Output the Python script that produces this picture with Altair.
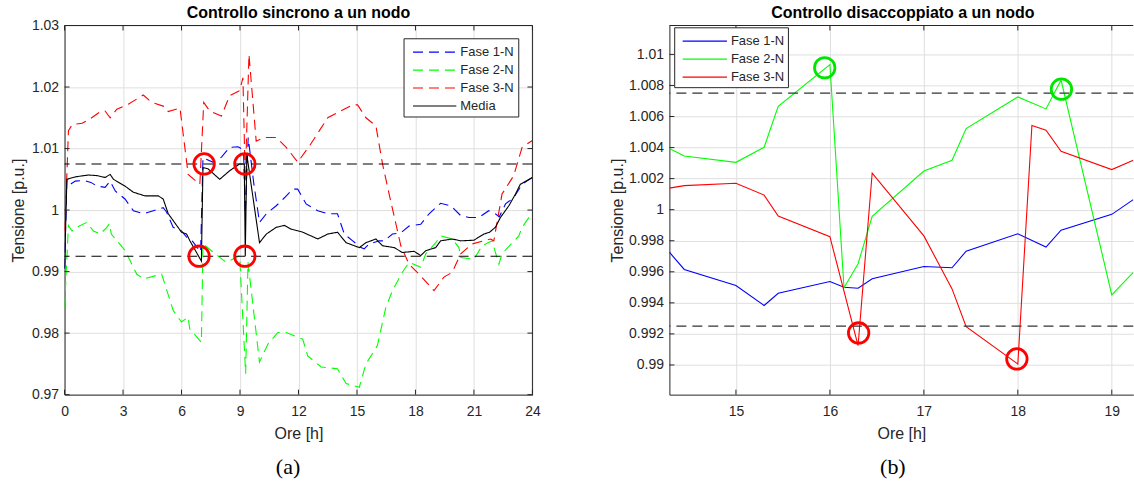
import altair as alt
import pandas as pd

FONT = "Liberation Sans"
INK = "#262626"

# ---------------- panel (a) data ----------------
series_a = ["Fase 1-N", "Fase 2-N", "Fase 3-N", "Media"]

a_f1_h = [0.0, 0.12, 0.3, 0.55, 1.0, 1.35, 1.66, 2.08, 2.34, 2.6, 3.1, 3.53, 4.04, 4.55, 5.06, 5.23, 5.57, 6.0, 6.26, 6.57, 6.98, 7.1, 7.6, 8.05, 8.47, 8.9, 9.18, 9.27, 9.42, 9.7, 10.0, 10.35, 10.86, 11.28, 11.71, 11.96, 12.39, 12.99, 13.5, 14.0, 14.35, 14.78, 15.2, 15.37, 15.62, 16.14, 16.4, 16.82, 17.25, 17.67, 18.27, 18.7, 19.29, 19.81, 20.32, 20.74, 21.25, 21.76, 22.1, 22.3, 22.62, 23.04, 23.47, 24.0]
a_f1_v = [0.9905, 1.005, 1.0042, 1.0047, 1.0048, 1.0045, 1.0039, 1.0037, 1.0047, 1.0031, 1.0018, 0.9999, 0.9994, 0.9999, 1.0004, 0.9997, 0.9972, 0.9966, 0.9956, 0.9949, 0.9932, 1.0085, 1.0078, 1.0086, 1.0102, 1.0103, 1.0098, 0.9994, 1.0118, 1.0045, 0.998, 0.9994, 1.0007, 1.002, 1.0034, 1.0034, 1.001, 0.9999, 0.9994, 0.9994, 0.9961, 0.995, 0.9939, 0.9937, 0.9945, 0.995, 0.995, 0.9961, 0.9963, 0.9974, 0.9977, 0.9994, 1.0011, 1.0007, 0.9991, 0.9988, 0.9988, 0.9999, 0.9994, 0.9989, 1.001, 1.002, 1.0042, 1.0053]

a_f2_h = [0.0, 0.2, 0.38, 0.55, 1.14, 1.48, 1.83, 2.17, 2.3, 2.4, 3.11, 3.7, 4.04, 4.98, 5.57, 6.0, 6.34, 6.42, 7.02, 7.1, 7.96, 8.3, 8.98, 9.29, 9.41, 10.0, 10.43, 10.94, 11.37, 12.22, 12.47, 13.16, 14.0, 14.44, 15.12, 15.46, 16.05, 16.48, 16.82, 17.33, 17.67, 18.27, 18.53, 19.04, 19.29, 19.89, 20.23, 20.32, 21.0, 21.42, 21.93, 22.28, 22.44, 23.3, 23.47, 24.0]
a_f2_v = [0.9842, 0.9975, 0.9966, 0.9971, 0.998, 0.9966, 0.9961, 0.9972, 0.9978, 0.9961, 0.9934, 0.9896, 0.9888, 0.9896, 0.9837, 0.9818, 0.9826, 0.9807, 0.9785, 0.9945, 0.9923, 0.9915, 0.9926, 0.9734, 0.9915, 0.9753, 0.9782, 0.9801, 0.9801, 0.979, 0.9763, 0.9745, 0.9742, 0.9718, 0.9712, 0.975, 0.978, 0.9842, 0.9869, 0.9899, 0.9915, 0.9907, 0.9929, 0.9947, 0.9958, 0.9953, 0.9939, 0.9923, 0.992, 0.9942, 0.995, 0.9912, 0.9929, 0.9958, 0.9972, 0.9996]

a_f3_h = [0.0, 0.12, 0.2, 0.4, 0.9, 1.3, 1.83, 2.08, 2.34, 2.68, 3.27, 4.04, 4.47, 5.15, 5.32, 5.92, 6.17, 6.34, 6.94, 7.14, 7.45, 8.05, 8.47, 8.98, 9.15, 9.27, 9.46, 9.83, 10.26, 10.86, 11.37, 11.96, 12.56, 13.5, 14.78, 15.03, 15.46, 15.97, 16.31, 16.65, 17.25, 17.67, 18.27, 18.95, 19.46, 19.89, 20.32, 20.91, 21.85, 22.02, 22.44, 23.04, 23.47, 23.7, 24.0]
a_f3_v = [0.9966, 1.0058, 1.0129, 1.0139, 1.0141, 1.0148, 1.016, 1.0161, 1.015, 1.0164, 1.0172, 1.0187, 1.0175, 1.0168, 1.016, 1.0166, 1.0102, 1.0058, 1.0042, 1.0175, 1.0161, 1.0153, 1.0186, 1.0194, 1.0215, 1.0047, 1.0253, 1.0112, 1.0118, 1.0118, 1.0102, 1.0078, 1.0104, 1.015, 1.0171, 1.0171, 1.015, 1.0137, 1.0075, 1.0026, 0.9942, 0.9912, 0.9893, 0.9869, 0.9891, 0.9899, 0.9929, 0.9945, 0.9953, 0.995, 1.0026, 1.0056, 1.0102, 1.0107, 1.0113]

a_med_h = [0.0, 0.12, 0.55, 1.23, 1.66, 2.08, 2.34, 2.51, 3.1, 3.53, 4.13, 4.81, 5.06, 5.32, 5.57, 6.0, 6.26, 6.43, 7.02, 7.1, 7.36, 7.96, 8.47, 8.98, 9.22, 9.27, 9.35, 10.0, 10.35, 10.86, 11.28, 11.62, 12.22, 12.99, 13.5, 14.0, 14.44, 15.12, 15.46, 15.97, 16.31, 16.91, 17.33, 17.93, 18.27, 18.53, 19.04, 19.29, 19.89, 20.32, 21.0, 21.25, 21.51, 21.8, 22.1, 22.36, 22.79, 23.13, 23.38, 24.0]
a_med_v = [0.9905, 1.005, 1.0054, 1.0057, 1.0056, 1.0053, 1.0058, 1.005, 1.0039, 1.0029, 1.0023, 1.0023, 1.0018, 0.9994, 0.9983, 0.9964, 0.9961, 0.995, 0.9917, 1.0069, 1.0067, 1.005, 1.0064, 1.0075, 1.0075, 0.9925, 1.009, 0.9947, 0.9961, 0.9972, 0.9975, 0.9969, 0.9964, 0.9953, 0.9961, 0.9964, 0.9947, 0.9939, 0.9947, 0.9953, 0.9942, 0.9939, 0.9931, 0.9933, 0.9926, 0.9934, 0.9939, 0.995, 0.9953, 0.995, 0.9951, 0.9956, 0.9961, 0.9964, 0.9972, 0.9988, 1.0007, 1.0026, 1.0042, 1.0053]

a_thresholds = [0.9925, 1.0075]
a_circle_h = [7.16, 9.25, 6.9, 9.25]
a_circle_v = [1.0075, 1.0075, 0.9925, 0.9925]
a_x_ticks = [0, 3, 6, 9, 12, 15, 18, 21, 24]
a_y_ticks = [0.97, 0.98, 0.99, 1.0, 1.01, 1.02, 1.03]

# ---------------- panel (b) data ----------------
series_b = ["Fase 1-N", "Fase 2-N", "Fase 3-N"]
b_h = [14.292, 14.45, 15.0, 15.3, 15.45, 16.0, 16.15, 16.3, 16.45, 17.0, 17.3, 17.45, 18.0, 18.15, 18.3, 18.46, 19.0, 19.229]
b_f1_v = [0.99726, 0.99615, 0.99512, 0.99383, 0.99462, 0.99537, 0.995, 0.99494, 0.99555, 0.99634, 0.99626, 0.99733, 0.99845, None, 0.99759, 0.99868, 0.9997, 1.00065]
b_f2_v = [1.00394, 1.00346, 1.00305, 1.00402, 1.00666, 1.00935, 0.99497, 0.99652, 0.99957, 1.00249, 1.00318, 1.00522, 1.00726, None, 1.00649, 1.00834, 0.99452, 0.99597]
b_f3_v = [1.00139, 1.00155, 1.0017, 1.00094, 0.99959, 0.99826, None, 0.99125, 1.00236, 0.99831, 0.9949, 0.99247, 0.99006, 1.00542, 1.00512, 1.00376, 1.00258, 1.00318]

b_thresholds = [0.9925, 1.0075]
b_green_circle_h = [15.945, 18.464]
b_green_circle_v = [1.00914, 1.00776]
b_red_circle_h = [16.306, 17.99]
b_red_circle_v = [0.99206, 0.99039]
b_x_ticks = [15, 16, 17, 18, 19]
b_y_ticks = [0.99, 0.992, 0.994, 0.996, 0.998, 1.0, 1.002, 1.004, 1.006, 1.008, 1.01]

captions = ["(a)", "(b)"]
titles = ["Controllo sincrono a un nodo", "Controllo disaccoppiato a un nodo"]

# ---------------- styles ----------------
colors_a = ["#0000ff", "#00ff00", "#ff0000", "#000000"]
dashes_a = [[10, 6], [10, 6], [10, 6], [1, 0]]
colors_b = ["#0000ff", "#00ff00", "#ff0000"]

WA, HA = 469, 370
WB, HB = 465, 370


def long_df(names, hs, vs):
    rows = []
    for name, h, v in zip(names, hs, vs):
        for i, (hh, vv) in enumerate(zip(h, v)):
            if vv is None:
                continue
            rows.append({"series": name, "h": hh, "v": vv, "idx": i})
    return pd.DataFrame(rows)


df_a = long_df(series_a, [a_f1_h, a_f2_h, a_f3_h, a_med_h], [a_f1_v, a_f2_v, a_f3_v, a_med_v])
df_b = long_df(series_b, [b_h, b_h, b_h], [b_f1_v, b_f2_v, b_f3_v])


def x_axis(values, W):
    return alt.Axis(values=values, format="d", title="Ore [h]", grid=True, gridColor="#dfdfdf",
                    gridWidth=1, ticks=False, tickSize=0, domain=True, domainColor=INK, domainWidth=1,
                    labelFont=FONT, labelFontSize=14, labelColor=INK, labelPadding=10, labelFlush=False,
                    labelOverlap=False, titleFont=FONT, titleFontSize=16, titleFontWeight="normal",
                    titleColor=INK, titleX=W / 2, titleY=43.8, titleBaseline="alphabetic", titleAlign="center")


def y_axis(values, tx, H):
    return alt.Axis(values=values, format=".3~f", title="Tensione [p.u.]", grid=True, gridColor="#dfdfdf",
                    gridWidth=1, ticks=False, tickSize=0, domain=True, domainColor=INK, domainWidth=1,
                    labelFont=FONT, labelFontSize=14, labelColor=INK, labelPadding=6, labelFlush=False,
                    labelOverlap=False, titleFont=FONT, titleFontSize=16, titleFontWeight="normal",
                    titleColor=INK, titleAngle=270, titleX=tx, titleY=H / 2, titleBaseline="alphabetic",
                    titleAlign="center")


def build_panel(W, H, xs, ys, xax, yax, df, col_scale, dash_scale, thresholds, thr_color, thr_width,
                circles, x_ticks, y_ticks, names, leg_box, leg_y0, leg_line_x, leg_text_x,
                caption, title, title_dx, right_border):
    X = lambda f: alt.X(f, scale=xs, axis=xax)
    Y = lambda f: alt.Y(f, scale=ys, axis=yax)
    one = pd.DataFrame({"k": [0]})
    layers = []

    enc = dict(x=X("h:Q"), y=Y("v:Q"),
               color=alt.Color("series:N", scale=col_scale, legend=None),
               order=alt.Order("idx:Q"))
    if dash_scale is not None:
        enc["strokeDash"] = alt.StrokeDash("series:N", scale=dash_scale, legend=None)
    layers.append(alt.Chart(df).mark_line(strokeWidth=1.1, clip=True).encode(**enc))

    layers.append(alt.Chart(pd.DataFrame({"v": thresholds})).mark_rule(
        color=thr_color, strokeWidth=thr_width, strokeDash=[10, 6]).encode(y=Y("v:Q")))

    for (ch, cv, ccol) in circles:
        layers.append(alt.Chart(pd.DataFrame({"h": ch, "v": cv})).mark_point(
            shape="circle", filled=False, size=420, strokeWidth=2.8, color=ccol, opacity=1).encode(
            x=X("h:Q"), y=Y("v:Q")))

    # inward ticks (box style)
    xt = pd.DataFrame({"h": x_ticks})
    yt = pd.DataFrame({"v": y_ticks})
    layers.append(alt.Chart(xt).mark_rule(color=INK, strokeWidth=1).encode(
        x=X("h:Q"), y=alt.value(H), y2=alt.value(H - 5)))
    layers.append(alt.Chart(xt).mark_rule(color=INK, strokeWidth=1).encode(
        x=X("h:Q"), y=alt.value(0), y2=alt.value(5)))
    layers.append(alt.Chart(yt).mark_rule(color=INK, strokeWidth=1).encode(
        y=Y("v:Q"), x=alt.value(0), x2=alt.value(5)))
    if right_border:
        layers.append(alt.Chart(yt).mark_rule(color=INK, strokeWidth=1).encode(
            y=Y("v:Q"), x=alt.value(W - 5), x2=alt.value(W)))

    # box edges top / right
    layers.append(alt.Chart(one).mark_rule(color=INK, strokeWidth=1).encode(
        x=alt.value(0), x2=alt.value(W), y=alt.value(0)))
    if right_border:
        layers.append(alt.Chart(one).mark_rule(color=INK, strokeWidth=1).encode(
            x=alt.value(W), y=alt.value(0), y2=alt.value(H)))

    # legend
    bx1, by1, bx2, by2 = leg_box
    layers.append(alt.Chart(one).mark_rect(fill="white", stroke=INK, strokeWidth=1).encode(
        x=alt.value(bx1), x2=alt.value(bx2), y=alt.value(by1), y2=alt.value(by2)))
    for i, name in enumerate(names):
        d = pd.DataFrame({"series": [name]})
        ly = leg_y0 + 18 * i
        lenc = dict(x=alt.value(leg_line_x[0]), x2=alt.value(leg_line_x[1]), y=alt.value(ly),
                    color=alt.Color("series:N", scale=col_scale, legend=None))
        if dash_scale is not None:
            lenc["strokeDash"] = alt.StrokeDash("series:N", scale=dash_scale, legend=None)
        layers.append(alt.Chart(d).mark_rule(strokeWidth=1.1).encode(**lenc))
        layers.append(alt.Chart(d).mark_text(align="left", baseline="middle", font=FONT,
                                             fontSize=13, color=INK).encode(
            x=alt.value(leg_text_x), y=alt.value(ly), text="series:N"))

    # title and caption
    layers.append(alt.Chart(pd.DataFrame({"t": [title]})).mark_text(
        font=FONT, fontSize=16, fontWeight="bold", color="#000000", align="center",
        baseline="alphabetic").encode(x=alt.value(W / 2 + title_dx), y=alt.value(-8), text="t:N"))
    layers.append(alt.Chart(pd.DataFrame({"c": [caption]})).mark_text(
        font="Liberation Serif", fontSize=22, color="#000000", align="center",
        baseline="middle").encode(x=alt.value(224), y=alt.value(443), text="c:N"))

    return alt.layer(*layers).properties(width=W, height=H)


panel_a = build_panel(
    WA, HA,
    alt.Scale(domain=[0, 24], nice=False, zero=False),
    alt.Scale(domain=[0.97, 1.03], nice=False, zero=False),
    x_axis(a_x_ticks, WA), y_axis(a_y_ticks, -40.7, HA),
    df_a, alt.Scale(domain=series_a, range=colors_a), alt.Scale(domain=series_a, range=dashes_a),
    a_thresholds, "#000000", 1.1,
    [(a_circle_h, a_circle_v, "#ff0000")],
    a_x_ticks, a_y_ticks, series_a,
    (340.3, 13.3, 455.3, 91.7), 26.7, (349.3, 392.7), 396.7,
    captions[0], titles[0], 0, True)

panel_b = build_panel(
    WB, HB,
    alt.Scale(domain=[14.292, 19.229], nice=False, zero=False),
    alt.Scale(domain=[0.98809, 1.01186], nice=False, zero=False),
    x_axis(b_x_ticks, WB), y_axis(b_y_ticks, -47.3, HB),
    df_b, alt.Scale(domain=series_b, range=colors_b), None,
    b_thresholds, "#333333", 1.3,
    [(b_green_circle_h, b_green_circle_v, "#00e600"), (b_red_circle_h, b_red_circle_v, "#ff0000")],
    b_x_ticks, b_y_ticks, series_b,
    (5.3, 2.3, 119.3, 62.3), 15.7, (13.3, 57.7), 61.7,
    captions[1], titles[1], 1.5, False)

chart = alt.hconcat(panel_a, panel_b, spacing=68.3).properties(
    padding={"left": 10.7, "top": 4, "right": 0, "bottom": 0},
    background="white",
).configure_view(stroke=None)

chart.save("out.html", embed_options={"renderer": "svg", "actions": False})
